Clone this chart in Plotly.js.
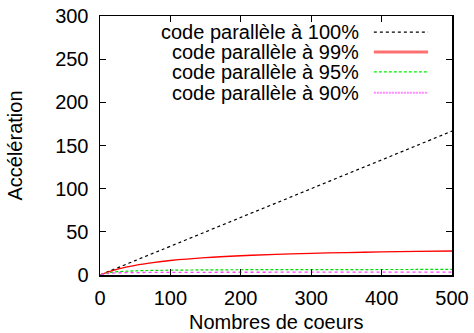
<!DOCTYPE html>
<html>
<head>
<meta charset="utf-8">
<script src="https://cdn.plot.ly/plotly-3.0.1.min.js"></script>
<style>html,body{margin:0;padding:0;background:#fff;}#chart{width:474px;height:333px;}</style>
</head>
<body>
<div id="chart"></div>
<script>
// Nombre de coeurs (x) et accélération
const coeurs = [1, 10, 25, 50, 75, 100, 150, 200, 250, 300, 350, 400, 450, 500];
const acc100 = [0.33, 3.3, 8.3, 16.7, 25, 33.3, 50, 66.7, 83.3, 100, 116.7, 133.3, 150, 166.7];
const acc99  = [0.33, 3.06, 6.7, 11.2, 14.4, 16.8, 20.1, 22.3, 23.9, 25.1, 26.0, 26.7, 27.3, 27.8];
const acc95  = [0.33, 2.3, 3.8, 4.8, 5.3, 5.6, 5.9, 6.1, 6.2, 6.3, 6.3, 6.35, 6.4, 6.4];
const acc90  = [0.33, 1.75, 2.45, 2.8, 3.0, 3.06, 3.14, 3.19, 3.22, 3.24, 3.25, 3.26, 3.27, 3.27];
const noms = ["code parallèle à 100%", "code parallèle à 99%", "code parallèle à 95%", "code parallèle à 90%"];
const xTitre = "Nombres de coeurs";
const yTitre = "Accélération";
const xTicks = [0, 100, 200, 300, 400, 500];
const yTicks = [0, 50, 100, 150, 200, 250, 300];

const styles = [
  {color: "#000000", width: 1.2, dash: "dot"},
  {color: "#ff0000", width: 1.3, dash: "solid"},
  {color: "#00dd00", width: 1.2, dash: "3px,2px"},
  {color: "#ff44ff", width: 1.3, dash: "dot"}
];
const series = [acc100, acc99, acc95, acc90];

const traces = series.map((ys, i) => ({
  x: coeurs, y: ys, type: "scatter", mode: "lines", name: noms[i],
  line: {color: styles[i].color, width: styles[i].width, dash: styles[i].dash, shape: "spline"},
  showlegend: false
}));

const F = "Liberation Sans, Arial, sans-serif";
const rowsY = [0.938, 0.861, 0.784, 0.704];
const annotations = noms.map((t, i) => ({
  xref: "paper", yref: "paper", x: 0.7415, y: rowsY[i], xanchor: "right", yanchor: "middle",
  text: t, showarrow: false, font: {family: F, size: 20, color: "#000"}
}));
annotations.push({
  xref: "paper", yref: "paper", x: 0.5, y: -0.183, xanchor: "center", yanchor: "middle",
  text: xTitre, showarrow: false, font: {family: F, size: 20, color: "#000"}
});
const legendColors = ["#000000", "#ff7070", "#00ee00", "#ff88ff"];
const legendWidths = [1.2, 3, 1.3, 2];
const legendDash = ["dot", "solid", "3px,2px", "2px,1px"];
const shapes = noms.map((t, i) => ({
  type: "line", xref: "paper", yref: "paper", x0: 0.778, x1: 0.932, y0: rowsY[i], y1: rowsY[i],
  line: {color: legendColors[i], width: legendWidths[i], dash: legendDash[i]}
}));

const axisCommon = {
  showline: true, linecolor: "#000", linewidth: 1.5, mirror: "ticks",
  ticks: "inside", ticklen: 6, tickcolor: "#000", tickwidth: 1,
  showgrid: false, zeroline: false,
  tickfont: {family: F, size: 20, color: "#000"}
};

const layout = {
  width: 474, height: 333,
  margin: {l: 100, r: 22, t: 16, b: 58},
  paper_bgcolor: "#fff", plot_bgcolor: "#fff",
  showlegend: false,
  xaxis: Object.assign({}, axisCommon, {
    range: [0, 500], tickvals: xTicks, ticktext: xTicks.map(String),
    ticklabelstandoff: 4
  }),
  yaxis: Object.assign({}, axisCommon, {
    range: [0, 300], tickvals: yTicks, ticktext: yTicks.map(String),
    ticklabelstandoff: 6,
    title: {text: yTitre, font: {family: F, size: 20, color: "#000"}, standoff: 27}
  }),
  annotations: annotations,
  shapes: shapes
};

Plotly.newPlot("chart", traces, layout, {displayModeBar: false, staticPlot: true});
</script>
</body>
</html>
